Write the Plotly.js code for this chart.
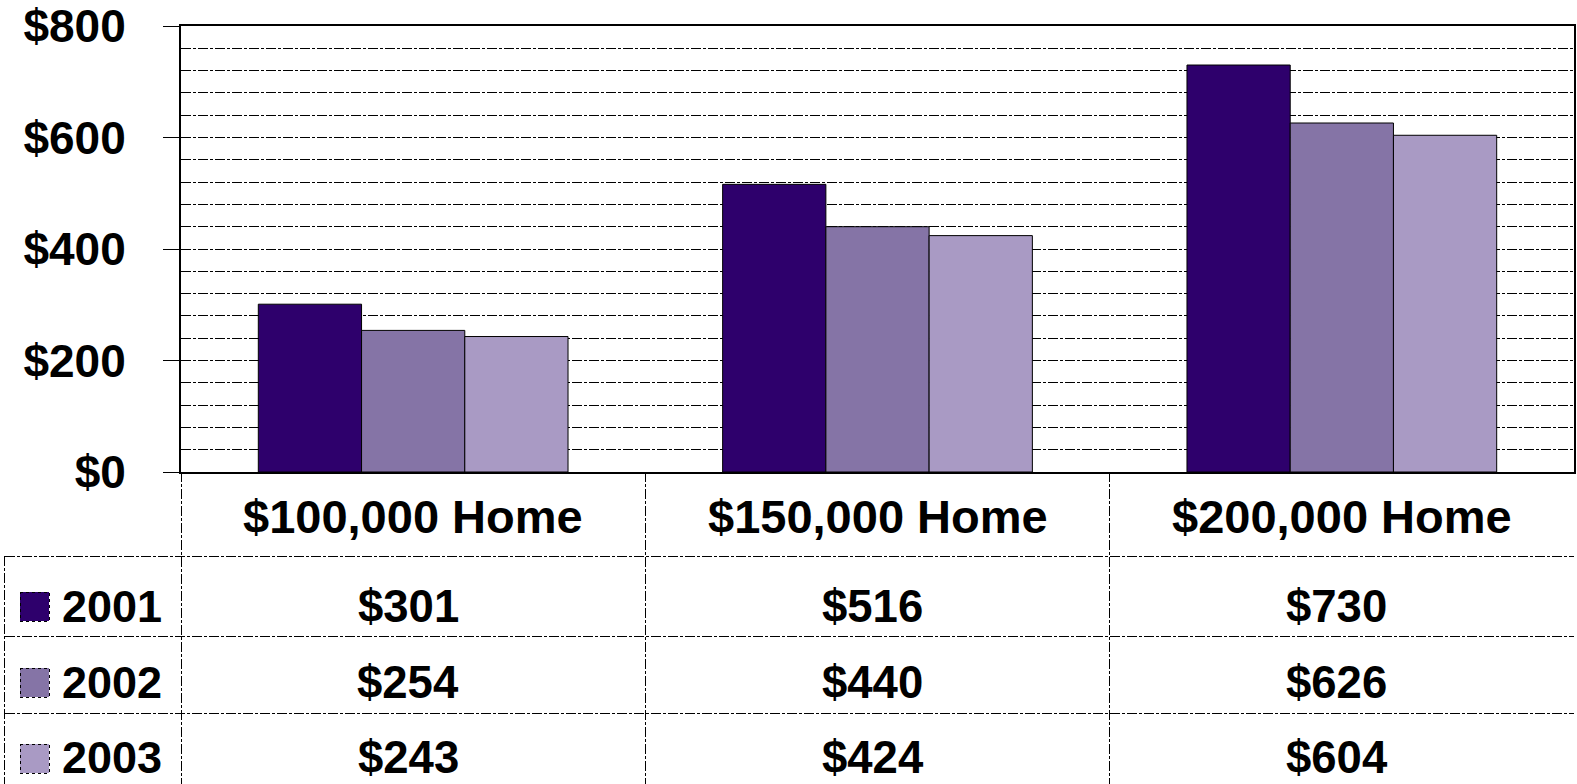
<!DOCTYPE html>
<html>
<head>
<meta charset="utf-8">
<script src="https://cdn.plot.ly/plotly-3.0.1.min.js"></script>
<style>
html,body{margin:0;padding:0;background:#fff;}
#chart{width:1577px;height:784px;}
.shapelayer path, .gridlayer path, .minor-gridlayer path {shape-rendering: crispEdges;}
</style>
</head>
<body>
<div id="chart"></div>
<script>
// ---- data ----
const categories = ['$100,000 Home', '$150,000 Home', '$200,000 Home'];
const years = ['2001', '2002', '2003'];
const values2001 = [301, 516, 730];
const values2002 = [254, 440, 626];
const values2003 = [243, 424, 604];
const seriesColors = ['#2E006C', '#8574A6', '#A99AC4'];

// ---- layout geometry ----
const W = 1577, H = 784;
const ML = 181, MR = 3, MT = 26, MB = 312;
const PW = W - ML - MR, PH = H - MT - MB;
const xp = px => (px - ML) / PW;
const yp = py => (H - MB - py) / PH;
const FONT = 'Liberation Sans, Arial, sans-serif';
const DASH = '10px,2px,3px,2px';

const seriesValues = [values2001, values2002, values2003];

const traces = years.map((yr, i) => ({
  type: 'bar',
  name: yr,
  x: categories,
  y: seriesValues[i],
  marker: {color: seriesColors[i], line: {color: '#000', width: 1}},
  hoverinfo: 'skip'
}));

const shapes = [];
const annotations = [];
const rowLines = [556, 636, 713];
const rowCenters = [606, 682, 758];

// horizontal table lines
rowLines.forEach(py => {
  shapes.push({type: 'line', xref: 'paper', yref: 'paper', x0: xp(4.5), x1: 1, y0: yp(py), y1: yp(py),
    line: {color: '#000', width: 1, dash: DASH}, layer: 'above'});
});
// vertical lines at category boundaries
for (let k = 0; k <= categories.length; k++) {
  shapes.push({type: 'line', xref: 'x', yref: 'paper', x0: k - 0.5, x1: k - 0.5, y0: 0, y1: yp(H + 10),
    line: {color: '#000', width: 1, dash: DASH}, layer: 'above'});
}
// left edge of legend column
shapes.push({type: 'line', xref: 'paper', yref: 'paper', x0: xp(4.5), x1: xp(4.5), y0: yp(556), y1: yp(H + 10),
  line: {color: '#000', width: 1, dash: DASH}, layer: 'above'});

// header row: categories
categories.forEach(c => {
  annotations.push({xref: 'x', yref: 'paper', x: c, y: yp(516), text: c, showarrow: false,
    xanchor: 'center', yanchor: 'middle', font: {family: FONT, size: 47, color: '#000', weight: 'bold'}});
});

// data rows
years.forEach((yr, i) => {
  const cy = rowCenters[i];
  // legend key
  shapes.push({type: 'rect', xref: 'paper', yref: 'paper', x0: xp(20), x1: xp(49), y0: yp(cy - 14), y1: yp(cy + 15),
    fillcolor: seriesColors[i], line: {color: '#000', width: 1, dash: 'dot'}, layer: 'above'});
  annotations.push({xref: 'paper', yref: 'paper', x: xp(60), y: yp(cy), text: yr, showarrow: false,
    xanchor: 'left', yanchor: 'middle', font: {family: FONT, size: 45, color: '#000', weight: 'bold'}});
  categories.forEach((c, j) => {
    annotations.push({xref: 'x', yref: 'paper', x: c, y: yp(cy), text: '$' + seriesValues[i][j], showarrow: false,
      xshift: -5,
      xanchor: 'center', yanchor: 'middle', font: {family: FONT, size: 45.5, color: '#000', weight: 'bold'}});
  });
});

const layout = {
  width: W, height: H,
  margin: {l: ML, r: MR, t: MT, b: MB, pad: 0},
  paper_bgcolor: '#fff', plot_bgcolor: '#fff',
  showlegend: false,
  barmode: 'group',
  bargap: 0.333,
  bargroupgap: 0,
  font: {family: FONT, color: '#000'},
  xaxis: {
    type: 'category',
    showticklabels: false, ticks: '',
    showgrid: false, zeroline: false,
    showline: true, linecolor: '#000', linewidth: 2, mirror: true,
    range: [-0.5, 2.5], fixedrange: true
  },
  yaxis: {
    range: [0, 800], dtick: 200, tick0: 0,
    tickprefix: '$',
    tickfont: {family: FONT, size: 46, color: '#000', weight: 'bold'},
    ticks: 'outside', ticklen: 16, tickcolor: '#000', tickwidth: 1,
    ticklabelstandoff: 28,
    showgrid: true, gridcolor: '#000', gridwidth: 1, griddash: DASH,
    minor: {dtick: 40, tick0: 0, showgrid: true, gridcolor: '#000', gridwidth: 1, griddash: DASH},
    zeroline: false,
    showline: true, linecolor: '#000', linewidth: 2, mirror: true,
    fixedrange: true
  },
  shapes: shapes,
  annotations: annotations
};

Plotly.newPlot('chart', traces, layout, {displayModeBar: false, staticPlot: true});
</script>
</body>
</html>
